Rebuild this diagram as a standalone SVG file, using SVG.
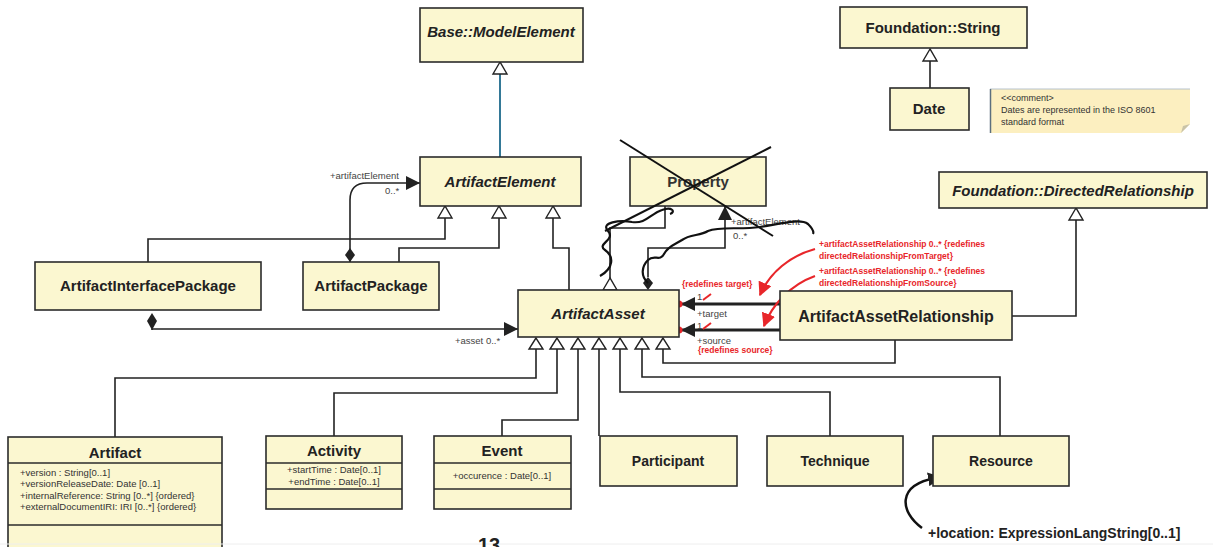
<svg xmlns="http://www.w3.org/2000/svg" width="1213" height="547" viewBox="0 0 1213 547">
<style>
.box{fill:#fbf7d0;stroke:#2b2b2b;stroke-width:1.6}
.t{font-family:"Liberation Sans",Arial,sans-serif;font-weight:bold;font-size:15px;fill:#222;text-anchor:middle}
.ti{font-family:"Liberation Sans",Arial,sans-serif;font-weight:bold;font-style:italic;font-size:15px;fill:#222;text-anchor:middle}
.a{font-family:"Liberation Sans",Arial,sans-serif;font-size:9.5px;fill:#333}
.ac{font-family:"Liberation Sans",Arial,sans-serif;font-size:9.5px;fill:#333;text-anchor:middle}
.lbl{font-family:"Liberation Sans",Arial,sans-serif;font-size:9.5px;fill:#444}
.red{font-family:"Liberation Sans",Arial,sans-serif;font-size:8.5px;font-weight:bold;fill:#e8262a}
.ln{fill:none;stroke:#222;stroke-width:1.6}
.thick{fill:none;stroke:#222;stroke-width:3}
.gen{fill:#fff;stroke:#222;stroke-width:1.4}
.rl{fill:none;stroke:#e8262a;stroke-width:2.2}
.scr{fill:none;stroke:#111;stroke-width:2.2}
</style>
<defs>
<marker id="fa" viewBox="0 0 10 10" refX="10" refY="5" markerWidth="14" markerHeight="14" markerUnits="userSpaceOnUse" orient="auto"><path d="M0,0 L10,5 L0,10 z" fill="#222"/></marker>
<marker id="ra" viewBox="0 0 10 10" refX="9" refY="5" markerWidth="14" markerHeight="14" markerUnits="userSpaceOnUse" orient="auto"><path d="M0,0 L10,5 L0,10 z" fill="#e8262a"/></marker>
</defs>

<g id="connectors">
<line x1="500" y1="74" x2="500" y2="157" stroke="#1d6a8c" stroke-width="1.8"/>
<path class="gen" d="M500,62 L493,74 L507,74 z"/>
<path class="ln" d="M148,262 V239 H445 V218"/>
<path class="ln" d="M399,262 V248 H499 V218"/>
<path class="ln" d="M569,290 V248 H553 V218"/>
<path class="gen" d="M445,206 L438,218 L452,218 z"/>
<path class="gen" d="M499,206 L492,218 L506,218 z"/>
<path class="gen" d="M553,206 L546,218 L560,218 z"/>
<path class="ln" d="M350,262 V200 Q350,183 367,183 H420" stroke-width="2" marker-end="url(#fa)"/>
<path d="M350,248 L355,255 L350,262 L345,255 z" fill="#222"/>
<text class="lbl" x="330" y="179">+artifactElement</text>
<text class="lbl" x="385" y="194">0..*</text>
<path class="ln" d="M152,330 V329 H518" marker-end="url(#fa)"/>
<path d="M152,313 L157,321 L152,330 L147,321 z" fill="#222"/>
<text class="lbl" x="455" y="344">+asset 0..*</text>
<path class="ln" d="M665,206 V228 H610 V278"/>
<path class="gen" d="M610,278 L603,290 L617,290 z"/>
<path class="ln" d="M648,277 V248 H725 V206" marker-end="url(#fa)"/>
<path d="M648,277 L653,283 L648,290 L643,283 z" fill="#222"/>
<text class="lbl" x="731" y="225">+artifactElement</text>
<text class="lbl" x="733" y="239">0..*</text>
<path class="ln" d="M115,437 V378 H536 V349"/>
<path class="ln" d="M334,436 V393 H557 V349"/>
<path class="ln" d="M502,436 V420 H578 V349"/>
<path class="ln" d="M599,349 V436"/>
<path class="ln" d="M620,349 V392 H830 V436"/>
<path class="ln" d="M642,349 V377 H1000 V436"/>
<path class="ln" d="M663,349 V363 H895 V340"/>
<path class="gen" d="M536,338 L529,349 L543,349 z"/>
<path class="gen" d="M557,338 L550,349 L564,349 z"/>
<path class="gen" d="M578,338 L571,349 L585,349 z"/>
<path class="gen" d="M599,338 L592,349 L606,349 z"/>
<path class="gen" d="M620,338 L613,349 L627,349 z"/>
<path class="gen" d="M642,338 L635,349 L649,349 z"/>
<path class="gen" d="M663,338 L656,349 L670,349 z"/>
<path class="ln" d="M1012,316 H1076 V220"/>
<path class="gen" d="M1076,208 L1069,220 L1083,220 z"/>
<path class="thick" d="M780,304 H681" marker-end="url(#fa)"/>
<path class="thick" d="M780,330 H681" marker-end="url(#fa)"/>
<circle cx="679" cy="304" r="3.5" fill="#e8262a"/>
<circle cx="679" cy="330" r="3.5" fill="#e8262a"/>
<text class="red" x="682" y="287">{redefines target}</text>
<text class="lbl" x="697" y="300">1</text>
<line x1="703" y1="300" x2="711" y2="294" stroke="#e8262a" stroke-width="2"/>
<text class="lbl" x="697" y="317">+target</text>
<text class="lbl" x="697" y="329">1</text>
<line x1="703" y1="329" x2="711" y2="323" stroke="#e8262a" stroke-width="2"/>
<text class="lbl" x="697" y="344">+source</text>
<text class="red" x="698" y="353">{redefines source}</text>
<text class="red" x="819" y="247">+artifactAssetRelationship 0..* {redefines</text>
<text class="red" x="819" y="259">directedRelationshipFromTarget}</text>
<text class="red" x="819" y="274">+artifactAssetRelationship 0..* {redefines</text>
<text class="red" x="819" y="286">directedRelationshipFromSource}</text>
<path class="rl" d="M815,249 C790,256 770,272 760,295" marker-end="url(#ra)"/>
<path class="rl" d="M815,276 C790,285 772,305 764,326" marker-end="url(#ra)"/>
<path class="ln" d="M930,61 V88"/>
<path class="gen" d="M930,49 L923,61 L937,61 z"/>
<path d="M922,528 C900,512 896,485 936,478 L942,477" fill="none" stroke="#111" stroke-width="2.5" marker-end="url(#fa)"/>
</g>

<g id="node-modelelement"><rect class="box" x="420" y="8" width="163" height="54"/><text class="ti" x="501" y="37">Base::ModelElement</text></g>
<g id="node-artifactelement"><rect class="box" x="420" y="157" width="161" height="49"/><text class="ti" x="500" y="187">ArtifactElement</text></g>
<g id="node-property"><rect class="box" x="630" y="157" width="136" height="49"/><text class="t" x="698" y="187" style="fill:#333">Property</text></g>
<g id="node-string"><rect class="box" x="840" y="7" width="187" height="41"/><text class="t" x="933" y="33">Foundation::String</text></g>
<g id="node-date"><rect class="box" x="890" y="88" width="79" height="42"/><text class="t" x="929" y="114">Date</text></g>
<g id="node-comment">
<path d="M990,89 H1190 V124 L1181,133 H990 z" fill="#fcefc0"/>
<path d="M1181,133 L1183,126 L1190,124" fill="#c9c3a8"/>
<line x1="990" y1="89" x2="1190" y2="89" stroke="#b6c2cc" stroke-width="1"/>
<line x1="990.5" y1="89" x2="990.5" y2="133" stroke="#5c6f7e" stroke-width="1.5"/>
<text class="a" x="1001" y="101" style="font-size:9px">&lt;&lt;comment&gt;</text>
<text class="a" x="1001" y="113" style="font-size:9px">Dates are represented in the ISO 8601</text>
<text class="a" x="1001" y="125" style="font-size:9px">standard format</text>
</g>
<g id="node-directedrelationship"><rect class="box" x="939" y="172" width="268" height="36"/><text class="ti" x="1073" y="196">Foundation::DirectedRelationship</text></g>
<g id="node-aip"><rect class="box" x="35" y="262" width="226" height="48"/><text class="t" x="148" y="291">ArtifactInterfacePackage</text></g>
<g id="node-artifactpackage"><rect class="box" x="303" y="262" width="136" height="48"/><text class="t" x="371" y="291">ArtifactPackage</text></g>
<g id="node-artifactasset"><rect class="box" x="518" y="290" width="161" height="47"/><text class="ti" x="598" y="319">ArtifactAsset</text></g>
<g id="node-aar"><rect class="box" x="780" y="291" width="232" height="49"/><text class="t" x="896" y="322" style="font-size:16px">ArtifactAssetRelationship</text></g>
<g id="node-artifact">
<rect class="box" x="8" y="437" width="214" height="115"/>
<text class="t" x="115" y="458">Artifact</text>
<line x1="8" y1="463" x2="222" y2="463" stroke="#2b2b2b" stroke-width="1.4"/>
<text class="a" x="20" y="476">+version : String[0..1]</text>
<text class="a" x="20" y="487">+versionReleaseDate: Date [0..1]</text>
<text class="a" x="20" y="499">+internalReference: String [0..*] {ordered}</text>
<text class="a" x="20" y="510">+externalDocumentIRI: IRI [0..*] {ordered}</text>
<line x1="8" y1="525" x2="222" y2="525" stroke="#2b2b2b" stroke-width="1.4"/>
</g>
<g id="node-activity">
<rect class="box" x="266" y="436" width="136" height="73"/>
<text class="t" x="334" y="456">Activity</text>
<line x1="266" y1="463" x2="402" y2="463" stroke="#2b2b2b" stroke-width="1.4"/>
<text class="ac" x="334" y="473">+startTime : Date[0..1]</text>
<text class="ac" x="334" y="485">+endTime : Date[0..1]</text>
<line x1="266" y1="489" x2="402" y2="489" stroke="#2b2b2b" stroke-width="1.4"/>
</g>
<g id="node-event">
<rect class="box" x="434" y="436" width="137" height="73"/>
<text class="t" x="502" y="456">Event</text>
<line x1="434" y1="463" x2="571" y2="463" stroke="#2b2b2b" stroke-width="1.4"/>
<text class="ac" x="502" y="479">+occurence : Date[0..1]</text>
<line x1="434" y1="489" x2="571" y2="489" stroke="#2b2b2b" stroke-width="1.4"/>
</g>
<g id="node-participant"><rect class="box" x="600" y="436" width="137" height="50"/><text class="t" x="668" y="466" style="font-size:14px">Participant</text></g>
<g id="node-technique"><rect class="box" x="767" y="436" width="136" height="50"/><text class="t" x="835" y="466" style="font-size:14px">Technique</text></g>
<g id="node-resource"><rect class="box" x="933" y="436" width="136" height="50"/><text class="t" x="1001" y="466" style="font-size:14px">Resource</text></g>

<g id="crossout">
<line x1="620" y1="140" x2="773" y2="236" stroke="#111" stroke-width="2"/>
<line x1="771" y1="147" x2="605" y2="231" stroke="#111" stroke-width="2"/>
<path class="scr" d="M600,276 C614,268 614,256 605,250 C596,244 616,240 608,231 C600,222 620,220 632,222 C646,224 650,214 662,210 C672,206 676,212 670,214"/>
<path class="scr" d="M648,283 C640,276 642,266 648,260 C654,254 660,262 664,254 C668,246 676,244 682,240 C690,234 700,236 708,231 C720,226 740,230 760,227 C780,224 800,218 808,224 C812,228 814,232 813,234"/>
</g>

<text class="t" x="928" y="538" style="font-size:14px;text-anchor:start">+location: ExpressionLangString[0..1]</text>
<line x1="0" y1="544" x2="1213" y2="544" stroke="#eeeeee" stroke-width="1"/>
<text class="t" x="489" y="552" style="font-size:20px">13</text>
</svg>
